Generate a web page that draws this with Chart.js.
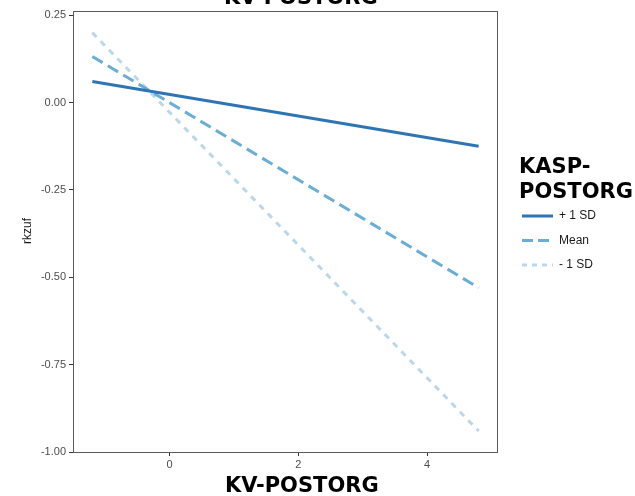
<!DOCTYPE html>
<html>
<head>
<meta charset="utf-8">
<script src="https://cdn.jsdelivr.net/npm/chart.js@4"></script>
<style>
  html, body { margin: 0; padding: 0; background: #ffffff; }
  #chart { display: block; }
</style>
</head>
<body>
<canvas id="chart" width="635" height="496"></canvas>
<script>
// --- DATA ---
const kvPostorg = [-1.2, 4.8];
const plusOneSd = [0.06, -0.125];
const meanLine = [0.132, -0.53];
const minusOneSd = [0.20, -0.94];

const seriesLabels = ['+ 1 SD', 'Mean', '- 1 SD'];
const xTicks = [0, 2, 4];
const yTicks = [-1.00, -0.75, -0.50, -0.25, 0.00, 0.25];

const axisTitleX = 'KV-POSTORG';
const axisTitleY = 'rkzuf';
const legendTitle = ['KASP-', 'POSTORG'];

// --- STYLE ---
const lineColors = ['#3075b3', '#6aaed6', '#bcd7ea'];
const lineDashes = [[], [12, 6], [6, 6]];
const legendDashes = [[], [11, 5], [5, 5]];
const tickColor = '#4d4d4d';
const boldFont = 'bold 21px "DejaVu Sans", sans-serif';
const tickFont = { family: '"Liberation Sans", Arial, sans-serif', size: 11 };

const toPoints = (ys) => kvPostorg.map((x, i) => ({ x: x, y: ys[i] }));

const datasets = [plusOneSd, meanLine, minusOneSd].map((ys, i) => ({
    label: seriesLabels[i],
    data: toPoints(ys),
    borderColor: lineColors[i],
    borderWidth: 3,
    borderDash: lineDashes[i],
    pointRadius: 0,
    fill: false,
    tension: 0
}));

// draws panel box, titles and the legend ggplot-style
const decorations = {
    id: 'decorations',
    afterDraw: (chart) => {
        const ctx = chart.ctx;
        const area = chart.chartArea;
        ctx.save();

        // panel border
        ctx.strokeStyle = '#5a5a5a';
        ctx.lineWidth = 1;
        ctx.strokeRect(area.left + 0.5, area.top + 0.5, area.right - area.left - 1, area.bottom - area.top);

        // top title, mostly cut off by the canvas edge
        ctx.fillStyle = '#000000';
        ctx.font = boldFont;
        ctx.textAlign = 'left';
        ctx.textBaseline = 'alphabetic';
        ctx.fillText(axisTitleX, 224, 4);

        // x axis title
        ctx.fillText(axisTitleX, 225, 492);

        // y axis title
        ctx.save();
        ctx.translate(31, 231);
        ctx.rotate(-Math.PI / 2);
        ctx.textAlign = 'center';
        ctx.font = '12px "Liberation Sans", Arial, sans-serif';
        ctx.fillStyle = '#1a1a1a';
        ctx.fillText(axisTitleY, 0, 0);
        ctx.restore();

        // legend
        ctx.font = boldFont;
        ctx.fillText(legendTitle[0], 519, 173);
        ctx.fillText(legendTitle[1], 519, 198);

        ctx.font = '12px "Liberation Sans", Arial, sans-serif';
        ctx.textBaseline = 'middle';
        chart.data.datasets.forEach((ds, i) => {
            const y = 216 + i * 24.5;
            ctx.beginPath();
            ctx.setLineDash(legendDashes[i]);
            ctx.strokeStyle = ds.borderColor;
            ctx.lineWidth = 3;
            ctx.moveTo(522, y);
            ctx.lineTo(553, y);
            ctx.stroke();
            ctx.setLineDash([]);
            ctx.fillStyle = '#1a1a1a';
            ctx.fillText(ds.label, 559, y);
        });

        ctx.restore();
    }
};

const ctx = document.getElementById('chart').getContext('2d');

new Chart(ctx, {
    type: 'line',
    data: { datasets: datasets },
    options: {
        responsive: false,
        animation: false,
        layout: { padding: { left: 0, top: 11, right: 137, bottom: 0 } },
        plugins: {
            legend: { display: false },
            tooltip: { enabled: false }
        },
        scales: {
            x: {
                type: 'linear',
                min: -1.5,
                max: 5.1,
                afterBuildTicks: (scale) => { scale.ticks = xTicks.map(v => ({ value: v })); },
                afterFit: (scale) => { scale.height = 44; },
                grid: { drawOnChartArea: false, drawTicks: true, tickLength: 4, color: '#333333' },
                border: { display: false },
                ticks: { color: tickColor, padding: 2, font: tickFont, maxRotation: 0 }
            },
            y: {
                type: 'linear',
                min: -1.0,
                max: 0.262,
                afterBuildTicks: (scale) => { scale.ticks = yTicks.map(v => ({ value: v })); },
                afterFit: (scale) => { scale.width = 73; },
                grid: { drawOnChartArea: false, drawTicks: true, tickLength: 4, color: '#333333' },
                border: { display: false },
                ticks: {
                    color: tickColor,
                    padding: 3,
                    font: tickFont,
                    callback: (v) => Number(v).toFixed(2)
                }
            }
        }
    },
    plugins: [decorations]
});
</script>
</body>
</html>
